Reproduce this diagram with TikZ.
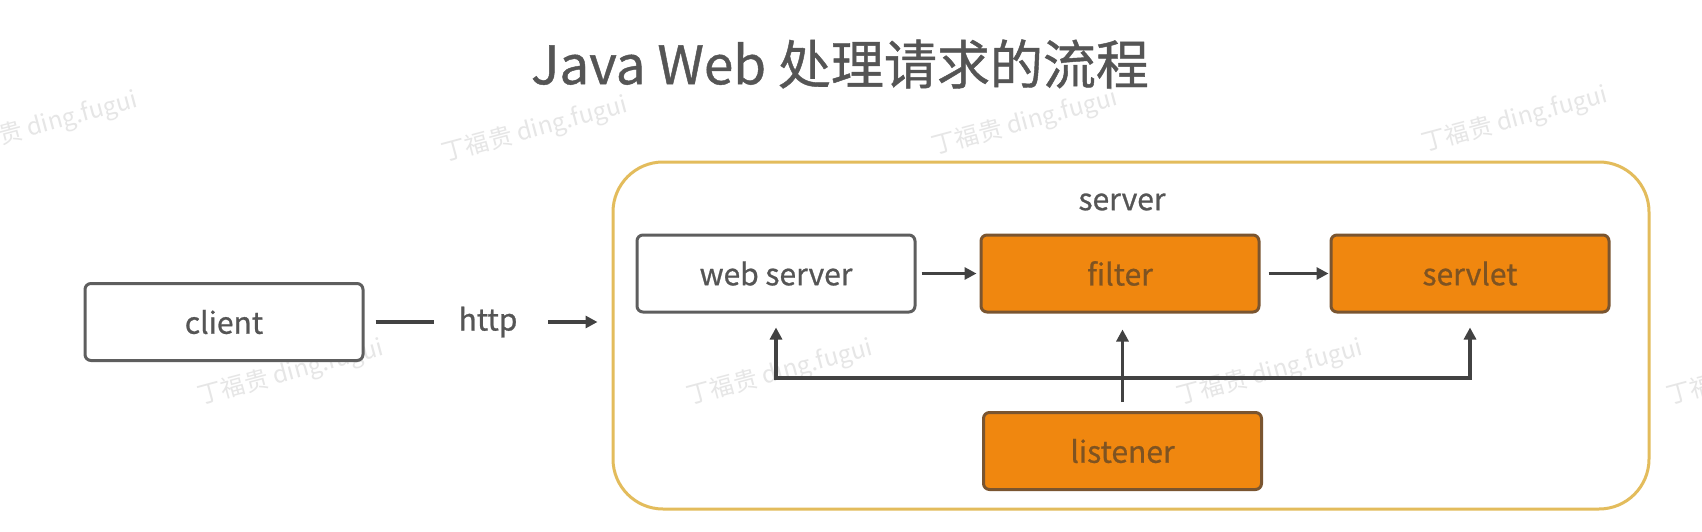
\documentclass[tikz,border=0pt]{standalone}
\usepackage{fontspec}
\setmainfont{Noto Sans CJK SC}
\newfontfamily\heavyfont[FakeBold=0.8]{Noto Sans CJK SC}
\usetikzlibrary{arrows.meta}
\definecolor{orfill}{HTML}{F0870F}
\definecolor{ordraw}{HTML}{7A5530}
\definecolor{ortext}{HTML}{7E5322}
\definecolor{gtext}{HTML}{555555}
\definecolor{gdraw}{HTML}{5E5E5E}
\definecolor{gold}{HTML}{E3BC5C}
\definecolor{arrc}{HTML}{424242}
\definecolor{wmc}{HTML}{E6E6E6}
\tikzset{
  lbl/.style={font=\heavyfont\fontsize{30}{34}\selectfont},
  whitebox/.style={draw=gdraw, line width=3pt, fill=white, rounded corners=6pt,
    minimum width=278pt, minimum height=77pt, text=gtext, lbl},
  orbox/.style={draw=ordraw, line width=3pt, fill=orfill, rounded corners=6pt,
    minimum width=278pt, minimum height=77pt, text=ortext, lbl},
  arr/.style={draw=arrc, line width=3.6pt, -{Triangle[length=12pt,width=12pt]}},
  plainline/.style={draw=arrc, line width=3.6pt},
  wm/.style={text=wmc, font=\fontsize{24}{28}\selectfont, rotate=15, inner sep=0pt},
}
\begin{document}
\begin{tikzpicture}[x=1pt,y=-1pt]
\useasboundingbox[fill=white] (0,0) rectangle (1702,532);
% watermarks
\node[wm] (wm1) at (45,125) {丁福贵 ding.fugui};
\node[wm] (wm2) at (535,130) {丁福贵 ding.fugui};
\node[wm] (wm3) at (1025,123) {丁福贵 ding.fugui};
\node[wm] (wm4) at (1515,120) {丁福贵 ding.fugui};
\node[wm] (wm5) at (291,373) {丁福贵 ding.fugui};
\node[wm] (wm6) at (780,373) {丁福贵 ding.fugui};
\node[wm] (wm7) at (1270,373) {丁福贵 ding.fugui};
\node[wm] (wm8) at (1760,373) {丁福贵 ding.fugui};
% title
\node[text=gtext, font=\heavyfont\fontsize{53}{58}\selectfont] (title) at (840,64) {Java Web 处理请求的流程};
% server frame
\node[draw=gold, line width=3pt, rounded corners=50pt, minimum width=1036pt, minimum height=347pt] (server) at (1131,335.5) {};
\node[lbl, text=gtext] (slabel) at (1122,202) {server};
% boxes
\node[whitebox] (client) at (224,322) {client};
\node[whitebox] (ws) at (776,273.5) {web server};
\node[orbox] (filter) at (1120,273.5) {filter};
\node[orbox] (servlet) at (1470,273.5) {servlet};
\node[orbox] (listener) at (1122.5,451) {listener};
\node[lbl, text=gtext, inner sep=0pt] (http) at (488,322) {http};
% connectors
\draw[plainline, shorten <=11pt, shorten >=54pt] (client.east) -- (http.center);
\draw[arr, shorten <=60pt, shorten >=14pt] (http.center) -- (server.west |- http.center);
\draw[arr, shorten <=5pt, shorten >=3pt] (ws) -- (filter);
\draw[arr, shorten <=8pt, shorten >=1pt] (filter) -- (servlet);
\coordinate (bus) at (listener.north |- 0,378);
\draw[arr, shorten <=9pt, shorten >=16pt] (listener.north) -- (listener.north |- filter.south);
\draw[arr, shorten >=14pt] (bus) -| (ws.south);
\draw[arr, shorten >=14pt] (bus) -| (servlet.south);
\end{tikzpicture}
\end{document}
